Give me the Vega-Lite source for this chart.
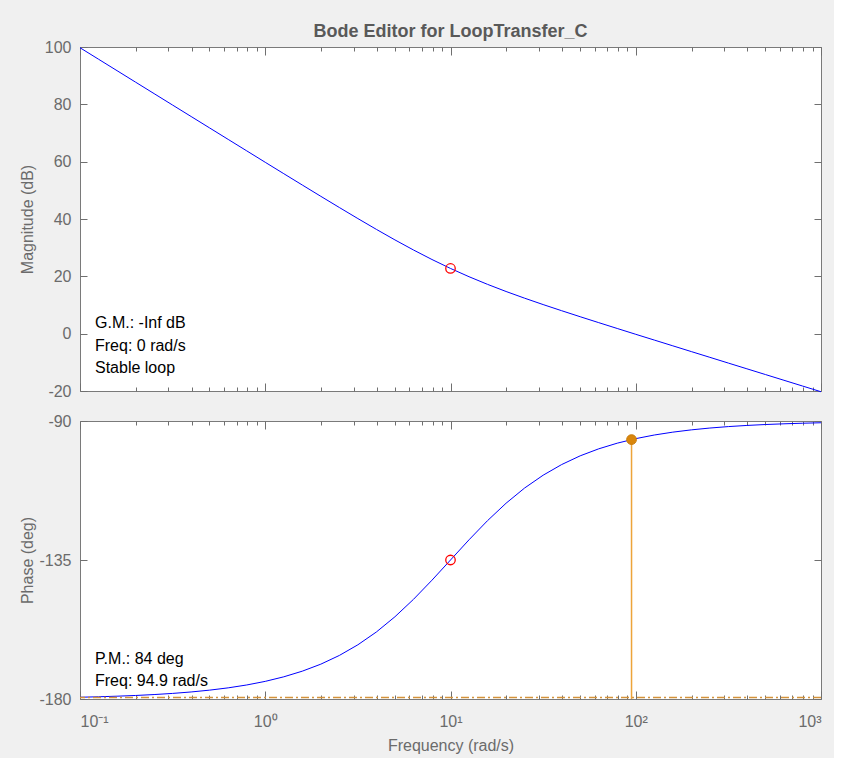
{
  "$schema": "https://vega.github.io/schema/vega-lite/v6.json",
  "background": "#f0f0f0",
  "padding": {"left": 18, "top": 22, "right": 10, "bottom": 4},
  "spacing": 12,
  "config": {
    "font": "Liberation Sans",
    "view": {"fill": "white", "stroke": "#7a7a7a", "strokeWidth": 1},
    "axis": {
      "domain": false,
      "grid": false,
      "tickColor": "#6f6f6f",
      "tickWidth": 1,
      "labelColor": "#6b6b6b",
      "labelFont": "Liberation Sans",
      "labelFontSize": 16,
      "titleColor": "#6b6b6b",
      "titleFont": "Liberation Sans",
      "titleFontSize": 16,
      "titleFontWeight": "normal"
    }
  },
  "datasets": {
    "bode": [
      {"w": 0.1, "mag": 99.74, "phase": -179.43},
      {"w": 0.12589, "mag": 95.74, "phase": -179.28},
      {"w": 0.15849, "mag": 91.74, "phase": -179.09},
      {"w": 0.19953, "mag": 87.74, "phase": -178.86},
      {"w": 0.25119, "mag": 83.74, "phase": -178.56},
      {"w": 0.31623, "mag": 79.74, "phase": -178.19},
      {"w": 0.39811, "mag": 75.75, "phase": -177.72},
      {"w": 0.50119, "mag": 71.75, "phase": -177.13},
      {"w": 0.63096, "mag": 67.76, "phase": -176.39},
      {"w": 0.79433, "mag": 63.77, "phase": -175.46},
      {"w": 1, "mag": 59.78, "phase": -174.29},
      {"w": 1.2589, "mag": 55.81, "phase": -172.82},
      {"w": 1.5849, "mag": 51.85, "phase": -170.99},
      {"w": 1.9953, "mag": 47.91, "phase": -168.72},
      {"w": 2.5119, "mag": 44.01, "phase": -165.9},
      {"w": 3.1623, "mag": 40.15, "phase": -162.45},
      {"w": 3.9811, "mag": 36.38, "phase": -158.3},
      {"w": 5.0119, "mag": 32.71, "phase": -153.38},
      {"w": 6.3096, "mag": 29.2, "phase": -147.75},
      {"w": 7.9433, "mag": 25.87, "phase": -141.54},
      {"w": 10, "mag": 22.75, "phase": -135},
      {"w": 12.589, "mag": 19.87, "phase": -128.46},
      {"w": 15.849, "mag": 17.2, "phase": -122.25},
      {"w": 19.953, "mag": 14.71, "phase": -116.62},
      {"w": 25.119, "mag": 12.38, "phase": -111.7},
      {"w": 31.623, "mag": 10.15, "phase": -107.55},
      {"w": 39.811, "mag": 8.01, "phase": -104.1},
      {"w": 50.119, "mag": 5.91, "phase": -101.28},
      {"w": 63.096, "mag": 3.85, "phase": -99.01},
      {"w": 79.433, "mag": 1.81, "phase": -97.18},
      {"w": 100, "mag": -0.22, "phase": -95.71},
      {"w": 125.89, "mag": -2.23, "phase": -94.54},
      {"w": 158.49, "mag": -4.24, "phase": -93.61},
      {"w": 199.53, "mag": -6.25, "phase": -92.87},
      {"w": 251.19, "mag": -8.25, "phase": -92.28},
      {"w": 316.23, "mag": -10.26, "phase": -91.81},
      {"w": 398.11, "mag": -12.26, "phase": -91.44},
      {"w": 501.19, "mag": -14.26, "phase": -91.14},
      {"w": 630.96, "mag": -16.26, "phase": -90.91},
      {"w": 794.33, "mag": -18.26, "phase": -90.72},
      {"w": 1000, "mag": -20.26, "phase": -90.57}
    ],
    "marker": [{"w": 10, "mag": 22.75, "phase": -135}],
    "margin": [{"w": 94.9, "phase": -96.02, "base": -180}],
    "notes": [
      {"panel": "mag", "line": 1, "w": 0.1, "y": 3.7, "note": "G.M.: -Inf dB"},
      {"panel": "mag", "line": 2, "w": 0.1, "y": -4.3, "note": "Freq: 0 rad/s"},
      {"panel": "mag", "line": 3, "w": 0.1, "y": -12.0, "note": "Stable loop"},
      {"panel": "phase", "line": 1, "w": 0.1, "y": -167.05, "note": "P.M.: 84 deg"},
      {"panel": "phase", "line": 2, "w": 0.1, "y": -174.2, "note": "Freq: 94.9 rad/s"}
    ]
  },
  "vconcat": [
    {
      "width": 741,
      "height": 344,
      "title": {"text": "Bode Editor for LoopTransfer_C", "fontSize": 18, "fontWeight": "bold", "color": "#595959", "font": "Liberation Sans", "anchor": "middle", "frame": "group", "offset": -2},
      "resolve": {"axis": {"x": "independent", "y": "independent"}},
      "layer": [
        {
          "data": {"name": "bode"},
          "mark": {"type": "line", "color": "#0000ff", "strokeWidth": 1},
          "encoding": {
            "x": {"field": "w", "type": "quantitative", "scale": {"type": "log", "domain": [0.1, 1000], "nice": false},
                  "axis": {"orient": "bottom", "values": [0.1, 1, 10, 100, 1000], "tickSize": -8, "labels": false, "title": null}},
            "y": {"field": "mag", "type": "quantitative", "scale": {"domain": [-20, 100], "nice": false, "zero": false},
                  "axis": {"orient": "left", "values": [-20, 0, 20, 40, 60, 80, 100], "tickSize": -7, "labelPadding": 16, "labelExpr": "'' + datum.value", "title": "Magnitude (dB)", "titleX": -45}}
          }
        },
        {
          "data": {"name": "marker"},
          "mark": {"type": "point", "shape": "circle", "filled": false, "stroke": "#ff0000", "strokeWidth": 1.3, "opacity": 1, "size": 90},
          "encoding": {
            "x": {"field": "w", "type": "quantitative",
                  "axis": {"orient": "top", "values": [0.1, 1, 10, 100, 1000], "tickSize": -8, "labels": false, "title": null}},
            "y": {"field": "mag", "type": "quantitative",
                  "axis": {"orient": "right", "values": [-20, 0, 20, 40, 60, 80, 100], "tickSize": -7, "labels": false, "title": null}}
          }
        },
        {
          "data": {"name": "notes"},
          "transform": [{"filter": "datum.panel == 'mag' && datum.line < 3"}],
          "mark": {"type": "text", "align": "left", "baseline": "middle", "dx": 15, "fontSize": 16, "color": "#000000", "font": "Liberation Sans"},
          "encoding": {
            "x": {"field": "w", "type": "quantitative",
                  "axis": {"orient": "bottom", "values": [0.2, 0.3, 0.4, 0.5, 0.6, 0.7, 0.8, 0.9, 2, 3, 4, 5, 6, 7, 8, 9, 20, 30, 40, 50, 60, 70, 80, 90, 200, 300, 400, 500, 600, 700, 800, 900], "tickSize": -4, "labels": false, "title": null}},
            "y": {"field": "y", "type": "quantitative", "axis": null},
            "text": {"field": "note"}
          }
        },
        {
          "data": {"name": "notes"},
          "transform": [{"filter": "datum.panel == 'mag' && datum.line == 3"}],
          "mark": {"type": "text", "align": "left", "baseline": "middle", "dx": 15, "fontSize": 16, "color": "#000000", "font": "Liberation Sans"},
          "encoding": {
            "x": {"field": "w", "type": "quantitative",
                  "axis": {"orient": "top", "values": [0.2, 0.3, 0.4, 0.5, 0.6, 0.7, 0.8, 0.9, 2, 3, 4, 5, 6, 7, 8, 9, 20, 30, 40, 50, 60, 70, 80, 90, 200, 300, 400, 500, 600, 700, 800, 900], "tickSize": -4, "labels": false, "title": null}},
            "y": {"field": "y", "type": "quantitative", "axis": null},
            "text": {"field": "note"}
          }
        }
      ]
    },
    {
      "width": 741,
      "height": 278,
      "resolve": {"axis": {"x": "independent", "y": "independent"}},
      "layer": [
        {
          "data": {"name": "bode"},
          "mark": {"type": "line", "color": "#0000ff", "strokeWidth": 1},
          "encoding": {
            "x": {"field": "w", "type": "quantitative", "scale": {"type": "log", "domain": [0.1, 1000], "nice": false},
                  "axis": {"orient": "bottom", "values": [0.1, 1, 10, 100, 1000], "tickSize": -8, "labelPadding": 22, "titlePadding": 8, "title": "Frequency (rad/s)",
                           "labelExpr": "datum.value < 0.5 ? '10⁻¹' : datum.value < 5 ? '10⁰' : datum.value < 50 ? '10¹' : datum.value < 500 ? '10²' : '10³'"}},
            "y": {"field": "phase", "type": "quantitative", "scale": {"domain": [-180, -90], "nice": false, "zero": false},
                  "axis": {"orient": "left", "values": [-180, -135, -90], "tickSize": -7, "labelPadding": 16, "labelExpr": "'' + datum.value", "title": "Phase (deg)", "titleX": -45}}
          }
        },
        {
          "data": {"name": "margin"},
          "mark": {"type": "rule", "color": "#d4923a", "strokeWidth": 1.5, "yOffset": -1.5, "strokeDash": [8, 3, 2, 3]},
          "encoding": {
            "y": {"field": "base", "type": "quantitative", "axis": null}
          }
        },
        {
          "data": {"name": "margin"},
          "mark": {"type": "rule", "color": "#eda43a", "strokeWidth": 1.5},
          "encoding": {
            "x": {"field": "w", "type": "quantitative",
                  "axis": {"orient": "bottom", "values": [0.2, 0.3, 0.4, 0.5, 0.6, 0.7, 0.8, 0.9, 2, 3, 4, 5, 6, 7, 8, 9, 20, 30, 40, 50, 60, 70, 80, 90, 200, 300, 400, 500, 600, 700, 800, 900], "tickSize": -4, "labels": false, "title": null}},
            "y": {"field": "phase", "type": "quantitative", "axis": null},
            "y2": {"field": "base"}
          }
        },
        {
          "data": {"name": "margin"},
          "mark": {"type": "point", "shape": "circle", "filled": true, "fill": "#d9860b", "stroke": "#c87a08", "strokeWidth": 1, "opacity": 1, "size": 95},
          "encoding": {
            "x": {"field": "w", "type": "quantitative",
                  "axis": {"orient": "top", "values": [0.2, 0.3, 0.4, 0.5, 0.6, 0.7, 0.8, 0.9, 2, 3, 4, 5, 6, 7, 8, 9, 20, 30, 40, 50, 60, 70, 80, 90, 200, 300, 400, 500, 600, 700, 800, 900], "tickSize": -4, "labels": false, "title": null}},
            "y": {"field": "phase", "type": "quantitative", "axis": null}
          }
        },
        {
          "data": {"name": "marker"},
          "mark": {"type": "point", "shape": "circle", "filled": false, "stroke": "#ff0000", "strokeWidth": 1.3, "opacity": 1, "size": 90},
          "encoding": {
            "x": {"field": "w", "type": "quantitative",
                  "axis": {"orient": "top", "values": [0.1, 1, 10, 100, 1000], "tickSize": -8, "labels": false, "title": null}},
            "y": {"field": "phase", "type": "quantitative",
                  "axis": {"orient": "right", "values": [-180, -135, -90], "tickSize": -7, "labels": false, "title": null}}
          }
        },
        {
          "data": {"name": "notes"},
          "transform": [{"filter": "datum.panel == 'phase'"}],
          "mark": {"type": "text", "align": "left", "baseline": "middle", "dx": 15, "fontSize": 16, "color": "#000000", "font": "Liberation Sans"},
          "encoding": {
            "x": {"field": "w", "type": "quantitative", "axis": null},
            "y": {"field": "y", "type": "quantitative", "axis": null},
            "text": {"field": "note"}
          }
        }
      ]
    }
  ]
}
